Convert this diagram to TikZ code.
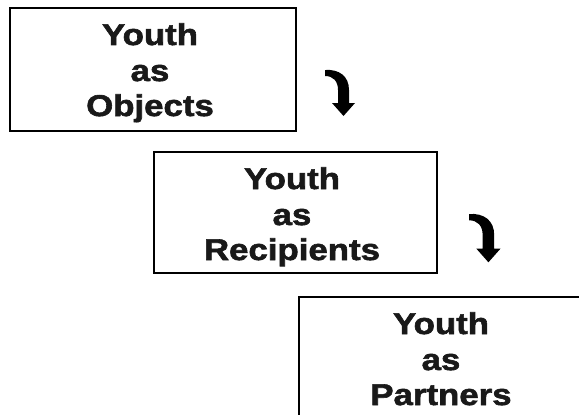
\documentclass[tikz,border=0pt]{standalone}
\usepackage{fontspec}
\newfontfamily\boxfont{Liberation Sans}[FakeStretch=1.16,BoldFeatures={FakeStretch=1.16,FakeBold=2}]
\begin{document}
\begin{tikzpicture}[x=1pt,y=-1pt,
  box/.style={draw=black,line width=2.4pt,rectangle,inner sep=0pt},
  txt/.style={anchor=base,inner sep=0pt,font=\boxfont\bfseries\fontsize{30}{30}\selectfont,text=black!90},
  turnarrow/.pic={
    \fill[black] (0,0) .. controls (14,-1) and (24,6) .. (24,20) -- (24,33) -- (30,33) -- (18.5,46)
      -- (7,33) -- (13,33) -- (13,20) .. controls (13,11) and (8,6) .. (0,6) -- cycle;
  }]
\useasboundingbox (0,0) rectangle (579,415);
\clip (0,0) rectangle (579,415);
\node[box,minimum width=286pt,minimum height=123pt] (b1) at (153,69.5) {};
\node[box,minimum width=283pt,minimum height=121pt] (b2) at (295.5,212.5) {};
\node[box,minimum width=290pt,minimum height=128pt] (b3) at (444,361) {};
\node[txt] (y1) at (150,45) {Youth};
\node[txt] (a1) at (150,81) {as};
\node[txt] (o1) at (150,116) {Objects};
\node[txt] (y2) at (292,189) {Youth};
\node[txt] (a2) at (292,225) {as};
\node[txt] (r2) at (292,260) {Recipients};
\node[txt] (y3) at (441,334) {Youth};
\node[txt] (a3) at (441,370) {as};
\node[txt] (p3) at (441,405) {Partners};
\pic at (325,70) {turnarrow};
\pic[scale=1.05] at (469,214) {turnarrow};
\end{tikzpicture}
\end{document}
